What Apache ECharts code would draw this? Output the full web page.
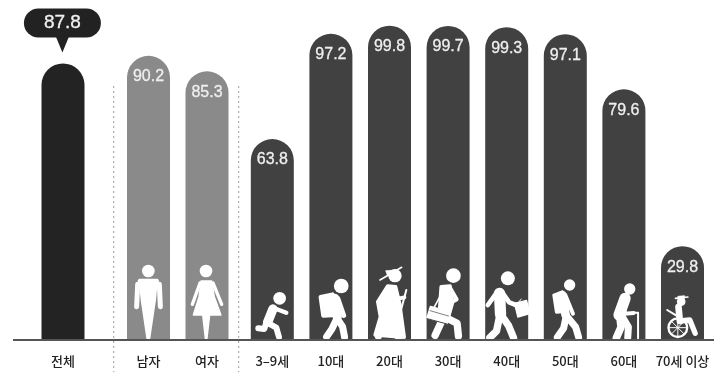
<!DOCTYPE html>
<html>
<head>
<meta charset="utf-8">
<style>html,body{margin:0;padding:0;background:#fff}#chart{width:714px;height:374px}</style>
<script src="https://cdn.jsdelivr.net/npm/echarts@6/dist/echarts.min.js"></script>
</head>
<body>
<div id="chart"></div>
<script>
// Rates by group
const totalLabels = ['전체'];
const totalValues = [87.8];
const genderLabels = ['남자', '여자'];
const genderValues = [90.2, 85.3];
const ageLabels = ['3–9세', '10대', '20대', '30대', '40대', '50대', '60대', '70세 이상'];
const ageValues = [63.8, 97.2, 99.8, 99.7, 99.3, 97.1, 79.6, 29.8];

// Pictograms: units are a third of a pixel. o = [centre x, ground y] of the figure.
// c = circle [x,y,r], p = filled polygon, l = stroked polyline (w = width, k = colour)
const BG_DARK = '#414141';
const ICON_MAN = { o: [70.5, 255], s: [
  { c: [70, 48, 19] },
  { p: [[44, 74], [96, 74], [90, 135], [73, 250], [67, 250], [50, 135]], w: 6 },
  { l: [[38, 88], [35, 155]], w: 15 }, { l: [[103, 88], [106, 155]], w: 15 },
  { l: [[44, 78], [96, 78]], w: 12 }
] };
const ICON_WOMAN = { o: [246, 255], s: [
  { c: [243, 48, 19] },
  { p: [[228, 78], [260, 78], [268, 125], [288, 180], [254, 180], [246, 250], [241, 250], [233, 180], [205, 180], [222, 125]], w: 4 },
  { l: [[225, 84], [202, 148]], w: 10 }, { l: [[264, 84], [290, 148]], w: 10 }
] };
const ICON_CHILD = { o: [66, 225], s: [
  { c: [88, 100, 19] },
  { l: [[68, 132], [52, 172]], w: 28 },
  { l: [[72, 130], [108, 143]], w: 13 },
  { l: [[56, 176], [78, 188], [86, 216]], w: 18 },
  { l: [[48, 172], [42, 192], [24, 190]], w: 18 }
] };
const ICON_TEEN = { o: [243, 225], s: [
  { c: [274, 63, 22] },
  { p: [[212, 96], [248, 88], [260, 150], [220, 152]], w: 12 },
  { l: [[254, 100], [262, 155]], w: 28 },
  { l: [[264, 100], [282, 152]], w: 14 },
  { l: [[262, 158], [246, 192], [230, 215]], w: 21 },
  { l: [[260, 158], [278, 185], [284, 216]], w: 21 }
] };
const ICON_GRADUATE = { o: [73.5, 240], s: [
  { c: [90, 47, 20] },
  { l: [[45, 60], [110, 22]], w: 5 },
  { p: [[62, 32], [96, 30], [94, 40], [68, 48]], w: 2 },
  { p: [[68, 78], [92, 80], [104, 130], [118, 232], [30, 225], [46, 170], [38, 125]], w: 10 },
  { l: [[88, 92], [100, 116], [118, 112]], w: 12 },
  { l: [[124, 90], [108, 150]], w: 6 },
  { c: [40, 228, 11] }, { c: [100, 230, 11] }
] };
const ICON_COMMUTER = { o: [249, 240], s: [
  { c: [265, 47, 22] },
  { p: [[228, 80], [255, 78], [262, 130], [250, 172], [222, 165]], w: 10 },
  { l: [[255, 85], [274, 118], [252, 130]], w: 13 },
  { l: [[238, 85], [205, 146]], w: 5 },
  { l: [[236, 170], [210, 226]], w: 22 },
  { l: [[240, 172], [276, 190], [280, 228]], w: 22 },
  { p: [[196, 140], [256, 156], [246, 190], [186, 174]], w: 5 },
  { l: [[195, 152], [250, 168]], w: 2, k: BG_DARK },
  { l: [[186, 176], [246, 192]], w: 3, k: BG_DARK }
] };
const ICON_WORKER = { o: [76.5, 225], s: [
  { c: [80, 40, 21] },
  { l: [[55, 85], [58, 148]], w: 34 },
  { l: [[45, 85], [20, 120]], w: 14 },
  { l: [[65, 85], [84, 112], [104, 120]], w: 14 },
  { l: [[56, 150], [46, 198], [26, 218]], w: 22 },
  { l: [[60, 150], [82, 182], [97, 218]], w: 22 },
  { p: [[100, 115], [136, 106], [146, 146], [110, 156]], w: 4 },
  { l: [[112, 112], [120, 102]], w: 3 }
] };
const ICON_HIKER = { o: [255, 225], s: [
  { c: [268, 60, 17] },
  { p: [[220, 90], [246, 80], [254, 140], [228, 142]], w: 8 },
  { l: [[246, 90], [256, 150]], w: 26 },
  { l: [[255, 90], [278, 146]], w: 12 },
  { l: [[258, 152], [250, 190], [231, 217]], w: 21 },
  { l: [[258, 152], [286, 186], [295, 217]], w: 21 }
] };
const ICON_SENIOR = { o: [70.5, 225], s: [
  { c: [88, 72, 17] },
  { l: [[74, 100], [56, 150]], w: 34 },
  { l: [[74, 110], [72, 146], [100, 144]], w: 12 },
  { l: [[100, 143], [113, 143], [113, 220]], w: 6 },
  { l: [[58, 152], [62, 186], [48, 218]], w: 23 },
  { l: [[64, 152], [84, 186], [82, 218]], w: 21 }
] };
const ICON_WHEELCHAIR = { o: [246, 225], s: [
  { c: [242, 110, 13] },
  { l: [[225, 100], [262, 96]], w: 5 },
  { p: [[232, 94], [252, 92], [252, 100], [232, 102]], w: 2 },
  { l: [[200, 135], [228, 152]], w: 6 },
  { l: [[234, 126], [238, 168]], w: 20 },
  { l: [[238, 168], [268, 165], [284, 205]], w: 16 },
  { c: [232, 188, 28], ring: 7 },
  { l: [[206, 188], [258, 188]], w: 3 }, { l: [[232, 162], [232, 214]], w: 3 },
  { l: [[214, 170], [250, 206]], w: 3 }, { l: [[250, 170], [214, 206]], w: 3 }
] };

const genderIcons = [ICON_MAN, ICON_WOMAN];
const ageIcons = [ICON_CHILD, ICON_TEEN, ICON_GRADUATE, ICON_COMMUTER, ICON_WORKER, ICON_HIKER, ICON_SENIOR, ICON_WHEELCHAIR];

const TEXT_FONT = '"Liberation Sans", Arial, sans-serif';
const KR_FONT = '"Noto Sans CJK KR", sans-serif';
const BAR_WIDTH = 43;

function iconElement(part) {
  const white = '#fff';
  if (part.c) {
    const shape = { cx: part.c[0], cy: part.c[1], r: part.c[2] };
    return part.ring
      ? { type: 'circle', shape, style: { fill: 'none', stroke: white, lineWidth: part.ring } }
      : { type: 'circle', shape, style: { fill: white } };
  }
  if (part.p) {
    return { type: 'polygon', shape: { points: part.p },
      style: { fill: white, stroke: white, lineWidth: part.w || 0, lineJoin: 'round' } };
  }
  return { type: 'polyline', shape: { points: part.l },
    style: { fill: 'none', stroke: part.k || white, lineWidth: part.w, lineCap: 'round', lineJoin: 'round' } };
}

// Figures stand on the axis, centred on their own bar
function iconRenderer(icons) {
  return function (params, api) {
    const icon = icons[params.dataIndex];
    const p = api.coord([api.value(0), 0]);
    return {
      type: 'group',
      x: p[0] - icon.o[0] / 3,
      y: p[1] - icon.o[1] / 3,
      scaleX: 1 / 3,
      scaleY: 1 / 3,
      children: icon.s.map(iconElement)
    };
  };
}

// Speech bubble holding the overall figure, pointing at the top of its bar
function bubbleRenderer(params, api) {
  const p = api.coord([api.value(0), api.value(1)]);
  return {
    type: 'group',
    x: p[0] - 0.6,
    y: p[1],
    children: [
      { type: 'rect', shape: { x: -38.5, y: -55, width: 77, height: 29, r: 14.5 }, style: { fill: '#222' } },
      { type: 'polygon', shape: { points: [[-7, -28], [7, -28], [0, -11]] }, style: { fill: '#222' } },
      { type: 'text', x: 0, y: -41, style: {
        text: api.value(1).toFixed(1), fill: '#f2f2f2', stroke: '#f2f2f2', lineWidth: 0.3,
        font: '19px ' + TEXT_FONT, align: 'center', verticalAlign: 'middle' } }
    ]
  };
}

const grids = [
  { left: 33, width: 60, top: 25, height: 315 },
  { left: 119.25, width: 117, top: 25, height: 315 },
  { left: 243, width: 468.8, top: 25, height: 315 }
];

const xAxes = [totalLabels, genderLabels, ageLabels].map((labels, i) => ({
  type: 'category', gridIndex: i, data: labels,
  axisLine: { show: false }, axisTick: { show: false },
  axisLabel: { interval: 0, margin: 15, fontSize: 13, fontWeight: 500, color: '#222', fontFamily: KR_FONT }
}));
const yAxes = [0, 1, 2].map(i => ({ type: 'value', gridIndex: i, min: 0, max: 100, show: false }));

function barSeries(i, values, color, showLabel) {
  return {
    type: 'bar', xAxisIndex: i, yAxisIndex: i, data: values, barWidth: BAR_WIDTH, z: 2,
    itemStyle: { color, borderRadius: [BAR_WIDTH / 2, BAR_WIDTH / 2, 0, 0] },
    label: { show: showLabel, position: 'insideTop', distance: 13, color: '#efefef',
      textBorderColor: '#efefef', textBorderWidth: 0.3,
      fontSize: 16, fontFamily: TEXT_FONT, formatter: p => p.value.toFixed(1) }
  };
}
function iconSeries(i, values, icons) {
  return {
    type: 'custom', xAxisIndex: i, yAxisIndex: i, z: 3, clip: false, silent: true,
    data: values.map((v, k) => [k, v]), encode: { x: 0, y: 1 },
    renderItem: iconRenderer(icons)
  };
}

const chart = echarts.init(document.getElementById('chart'));
chart.setOption({
  animation: false,
  backgroundColor: '#fff',
  grid: grids,
  xAxis: xAxes,
  yAxis: yAxes,
  series: [
    barSeries(0, totalValues, '#232323', false),
    {
      type: 'custom', xAxisIndex: 0, yAxisIndex: 0, z: 3, clip: false, silent: true,
      data: totalValues.map((v, k) => [k, v]), encode: { x: 0, y: 1 },
      renderItem: bubbleRenderer
    },
    barSeries(1, genderValues, '#8a8a8a', true),
    iconSeries(1, genderValues, genderIcons),
    barSeries(2, ageValues, BG_DARK, true),
    iconSeries(2, ageValues, ageIcons)
  ],
  // Baseline under all bars and the dotted group separators
  graphic: [
    { type: 'line', z: 10, shape: { x1: 13, y1: 340, x2: 714, y2: 340 }, style: { stroke: '#555', lineWidth: 2 } },
    { type: 'line', z: 1, shape: { x1: 113.7, y1: 86, x2: 113.7, y2: 372 }, style: { stroke: '#9a9a9a', lineWidth: 1, lineDash: [2, 3] } },
    { type: 'line', z: 1, shape: { x1: 238.7, y1: 86, x2: 238.7, y2: 372 }, style: { stroke: '#9a9a9a', lineWidth: 1, lineDash: [2, 3] } }
  ]
});
</script>
</body>
</html>
